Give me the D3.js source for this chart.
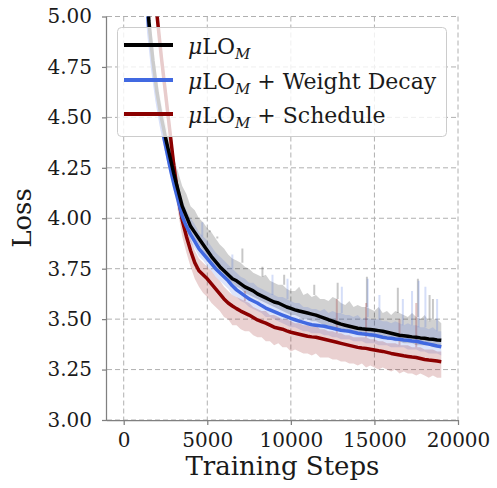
<!DOCTYPE html>
<html>
<head>
<meta charset="utf-8">
<script src="https://cdn.jsdelivr.net/npm/d3@7"></script>
<style>
  body { margin: 0; background: #fff; }
  svg text { font-family: "DejaVu Serif", serif; fill: #1a1a1a; }
</style>
</head>
<body>
<div id="chart"></div>
<script>
// x values (training steps), one every 250 steps
const steps = [
  1000, 1250, 1500, 1750, 2000, 2250, 2500, 2750, 3000, 3250,
  3500, 3750, 4000, 4250, 4500, 4750, 5000, 5250, 5500, 5750,
  6000, 6250, 6500, 6750, 7000, 7250, 7500, 7750, 8000, 8250,
  8500, 8750, 9000, 9250, 9500, 9750, 10000, 10250, 10500, 10750,
  11000, 11250, 11500, 11750, 12000, 12250, 12500, 12750, 13000, 13250,
  13500, 13750, 14000, 14250, 14500, 14750, 15000, 15250, 15500, 15750,
  16000, 16250, 16500, 16750, 17000, 17250, 17500, 17750, 18000, 18250,
  18500, 18750, 19000
];

// muLO_M
const baseMean = [
  5.90, 5.40, 4.98, 4.78, 4.62, 4.50, 4.40, 4.31, 4.22, 4.14,
  4.06, 4.01, 3.96, 3.93, 3.90, 3.87, 3.84, 3.81, 3.785, 3.76,
  3.74, 3.72, 3.70, 3.69, 3.675, 3.66, 3.65, 3.64, 3.625, 3.615,
  3.605, 3.595, 3.585, 3.58, 3.57, 3.56, 3.553, 3.546, 3.54, 3.535,
  3.53, 3.525, 3.52, 3.512, 3.505, 3.497, 3.49, 3.482, 3.475, 3.47,
  3.465, 3.46, 3.455, 3.452, 3.45, 3.448, 3.446, 3.443, 3.44, 3.435,
  3.43, 3.425, 3.42, 3.418, 3.415, 3.412, 3.41, 3.407, 3.405, 3.402,
  3.40, 3.397, 3.395
];
const baseHi = [
  6.00, 5.50, 5.06, 4.86, 4.69, 4.57, 4.47, 4.38, 4.30, 4.23,
  4.16, 4.12, 4.06, 4.04, 4.00, 3.98, 3.95, 3.93, 3.90, 3.87,
  3.85, 3.82, 3.80, 3.79, 3.78, 3.76, 3.75, 3.73, 3.72, 3.71,
  3.72, 3.69, 3.68, 3.67, 3.67, 3.65, 3.64, 3.64, 3.66, 3.62,
  3.63, 3.61, 3.62, 3.60, 3.60, 3.59, 3.61, 3.60, 3.58, 3.57,
  3.59, 3.56, 3.57, 3.56, 3.56, 3.55, 3.54, 3.56, 3.53, 3.54,
  3.52, 3.54, 3.53, 3.52, 3.51, 3.53, 3.51, 3.50, 3.52, 3.49,
  3.50, 3.50, 3.48
];
const baseLo = [
  5.85, 5.35, 4.94, 4.75, 4.59, 4.47, 4.37, 4.28, 4.19, 4.11,
  4.03, 3.98, 3.93, 3.90, 3.87, 3.84, 3.81, 3.78, 3.76, 3.73,
  3.71, 3.69, 3.68, 3.66, 3.65, 3.63, 3.62, 3.61, 3.60, 3.59,
  3.58, 3.57, 3.56, 3.55, 3.54, 3.53, 3.52, 3.52, 3.51, 3.50,
  3.50, 3.49, 3.49, 3.48, 3.47, 3.47, 3.46, 3.45, 3.44, 3.44,
  3.43, 3.43, 3.42, 3.42, 3.42, 3.41, 3.41, 3.41, 3.40, 3.40,
  3.40, 3.39, 3.39, 3.38, 3.38, 3.38, 3.37, 3.37, 3.37, 3.37,
  3.36, 3.36, 3.36
];
// single-step loss spikes: [step, peak]
const baseSpikes = [
  [5150, 3.94], [5600, 3.91], [7100, 3.85], [8300, 3.76], [9600, 3.72],
  [11400, 3.67], [12800, 3.68], [14550, 3.71], [16400, 3.655],
  [17600, 3.70], [18300, 3.62], [18500, 3.60]
];

// muLO_M + Weight Decay
const wdMean = [
  5.80, 5.30, 4.92, 4.73, 4.58, 4.46, 4.36, 4.26, 4.17, 4.09,
  4.01, 3.96, 3.92, 3.885, 3.85, 3.825, 3.80, 3.775, 3.75, 3.73,
  3.71, 3.69, 3.665, 3.645, 3.63, 3.615, 3.60, 3.59, 3.58, 3.567,
  3.555, 3.546, 3.537, 3.528, 3.52, 3.512, 3.504, 3.497, 3.49, 3.484,
  3.478, 3.472, 3.47, 3.467, 3.465, 3.46, 3.455, 3.45, 3.445, 3.442,
  3.44, 3.435, 3.43, 3.427, 3.425, 3.422, 3.42, 3.415, 3.41, 3.407,
  3.405, 3.402, 3.40, 3.397, 3.395, 3.392, 3.39, 3.385, 3.38, 3.376,
  3.372, 3.367, 3.363
];
const wdHi = [
  5.88, 5.38, 4.99, 4.80, 4.65, 4.53, 4.43, 4.33, 4.24, 4.17,
  4.09, 4.04, 4.00, 3.97, 3.93, 3.91, 3.89, 3.86, 3.83, 3.81,
  3.79, 3.77, 3.75, 3.73, 3.71, 3.70, 3.68, 3.68, 3.66, 3.65,
  3.64, 3.63, 3.62, 3.61, 3.61, 3.60, 3.59, 3.58, 3.58, 3.56,
  3.56, 3.55, 3.55, 3.54, 3.55, 3.53, 3.54, 3.53, 3.53, 3.52,
  3.52, 3.51, 3.52, 3.50, 3.51, 3.50, 3.50, 3.50, 3.49, 3.49,
  3.48, 3.49, 3.48, 3.47, 3.48, 3.47, 3.47, 3.46, 3.46, 3.45,
  3.46, 3.44, 3.44
];
const wdLo = [
  5.76, 5.26, 4.88, 4.69, 4.54, 4.42, 4.32, 4.22, 4.13, 4.05,
  3.97, 3.92, 3.88, 3.85, 3.81, 3.79, 3.76, 3.74, 3.71, 3.69,
  3.67, 3.65, 3.62, 3.61, 3.59, 3.58, 3.56, 3.55, 3.54, 3.53,
  3.51, 3.51, 3.50, 3.49, 3.48, 3.47, 3.46, 3.46, 3.45, 3.44,
  3.44, 3.43, 3.43, 3.43, 3.42, 3.42, 3.41, 3.41, 3.40, 3.40,
  3.40, 3.39, 3.39, 3.39, 3.38, 3.38, 3.38, 3.37, 3.37, 3.37,
  3.36, 3.36, 3.36, 3.36, 3.35, 3.35, 3.35, 3.34, 3.34, 3.33,
  3.33, 3.33, 3.32
];
const wdSpikes = [
  [4700, 3.98], [6500, 3.82], [8900, 3.72], [9800, 3.70], [13050, 3.66],
  [14600, 3.70], [15300, 3.62], [16700, 3.60], [17250, 3.64],
  [17650, 3.69], [18050, 3.66], [18750, 3.60]
];

// muLO_M + Schedule
const schedMean = [
  7.00, 6.20, 5.60, 5.25, 5.00, 4.80, 4.62, 4.44, 4.26, 4.11,
  3.99, 3.91, 3.84, 3.78, 3.74, 3.72, 3.70, 3.675, 3.65, 3.625,
  3.60, 3.58, 3.565, 3.552, 3.54, 3.53, 3.52, 3.508, 3.496, 3.488,
  3.48, 3.47, 3.46, 3.455, 3.45, 3.442, 3.435, 3.43, 3.425, 3.42,
  3.415, 3.412, 3.41, 3.405, 3.40, 3.395, 3.39, 3.385, 3.38, 3.375,
  3.37, 3.365, 3.36, 3.357, 3.355, 3.351, 3.347, 3.343, 3.34, 3.335,
  3.33, 3.326, 3.322, 3.318, 3.315, 3.312, 3.31, 3.305, 3.30, 3.297,
  3.295, 3.292, 3.289
];
const schedHi = [
  7.08, 6.28, 5.67, 5.31, 5.06, 4.86, 4.68, 4.50, 4.32, 4.17,
  4.05, 3.97, 3.90, 3.84, 3.80, 3.78, 3.76, 3.74, 3.71, 3.69,
  3.66, 3.64, 3.62, 3.61, 3.60, 3.59, 3.58, 3.56, 3.55, 3.54,
  3.54, 3.52, 3.52, 3.51, 3.50, 3.50, 3.49, 3.48, 3.48, 3.47,
  3.47, 3.46, 3.47, 3.45, 3.45, 3.44, 3.44, 3.43, 3.43, 3.42,
  3.42, 3.41, 3.41, 3.41, 3.41, 3.40, 3.40, 3.39, 3.39, 3.38,
  3.38, 3.38, 3.37, 3.37, 3.37, 3.36, 3.36, 3.36, 3.35, 3.35,
  3.35, 3.34, 3.34
];
const schedLo = [
  6.92, 6.12, 5.53, 5.18, 4.93, 4.73, 4.55, 4.37, 4.19, 4.03,
  3.91, 3.83, 3.76, 3.70, 3.66, 3.63, 3.61, 3.58, 3.56, 3.54,
  3.51, 3.50, 3.47, 3.47, 3.45, 3.44, 3.44, 3.42, 3.41, 3.41,
  3.39, 3.39, 3.37, 3.38, 3.36, 3.36, 3.34, 3.35, 3.34, 3.33,
  3.33, 3.32, 3.33, 3.31, 3.31, 3.31, 3.30, 3.30, 3.29, 3.29,
  3.28, 3.28, 3.27, 3.28, 3.26, 3.27, 3.26, 3.25, 3.26, 3.25,
  3.24, 3.25, 3.23, 3.24, 3.23, 3.23, 3.22, 3.23, 3.22, 3.21,
  3.22, 3.21, 3.21
];
const schedSpikes = [
  [7250, 3.64], [12750, 3.60], [14500, 3.58], [16500, 3.50], [17500, 3.58]
];

const xTicks = [0, 5000, 10000, 15000, 20000];
const yTicks = [3.00, 3.25, 3.50, 3.75, 4.00, 4.25, 4.50, 4.75, 5.00];

const series = [
  {mean: baseMean, hi: baseHi, lo: baseLo, spikes: baseSpikes, color: "#000000"},
  {mean: wdMean, hi: wdHi, lo: wdLo, spikes: wdSpikes, color: "#4169e1"},
  {mean: schedMean, hi: schedHi, lo: schedLo, spikes: schedSpikes, color: "#8b0000"}
];
const legendSuffix = ["", " + Weight Decay", " + Schedule"];

// plot box
const W = 497, H = 488;
const plot = {left: 107, right: 458, top: 16.5, bottom: 420};

const svg = d3.select("#chart").append("svg")
    .attr("width", W)
    .attr("height", H);

const x = d3.scaleLinear().domain([-1000, 20000]).range([plot.left, plot.right]);
const y = d3.scaleLinear().domain([3, 5]).range([plot.bottom, plot.top]);

svg.append("clipPath").attr("id", "clip")
  .append("rect")
    .attr("x", plot.left).attr("y", plot.top)
    .attr("width", plot.right - plot.left)
    .attr("height", plot.bottom - plot.top);

// grid
const grid = svg.append("g").attr("class", "grid");
grid.selectAll(".gx").data(xTicks).enter().append("line")
    .attr("x1", d => x(d)).attr("x2", d => x(d))
    .attr("y1", plot.top).attr("y2", plot.bottom)
    .attr("stroke", "#b0b0b0").attr("stroke-width", 1)
    .attr("stroke-dasharray", "5,3");
grid.selectAll(".gy").data(yTicks).enter().append("line")
    .attr("x1", plot.left).attr("x2", plot.right)
    .attr("y1", d => y(d)).attr("y2", d => y(d))
    .attr("stroke", "#b0b0b0").attr("stroke-width", 1)
    .attr("stroke-dasharray", "5,3");

// bands + spikes + lines
const data = svg.append("g").attr("clip-path", "url(#clip)");
const bisect = d3.bisector(d => d).center;

series.forEach(s => {
  const area = d3.area()
      .x((d, i) => x(steps[i]))
      .y0((d, i) => y(s.lo[i]))
      .y1((d, i) => y(s.hi[i]));
  data.append("path")
      .datum(steps)
      .attr("d", area)
      .attr("fill", s.color)
      .attr("fill-opacity", 0.18);
  data.selectAll(null).data(s.spikes).enter().append("line")
      .attr("x1", d => x(d[0])).attr("x2", d => x(d[0]))
      .attr("y1", d => y(s.hi[bisect(steps, d[0])]))
      .attr("y2", d => y(d[1]))
      .attr("stroke", s.color)
      .attr("stroke-opacity", 0.22)
      .attr("stroke-width", 2);
});

const line = d3.line().x((d, i) => x(steps[i])).y(d => y(d));
[series[2], series[1], series[0]].forEach(s => {
  data.append("path")
      .datum(s.mean)
      .attr("d", line)
      .attr("fill", "none")
      .attr("stroke", s.color)
      .attr("stroke-width", 3.5)
      .attr("stroke-linejoin", "round");
});

// axes
const xAxis = svg.append("g")
    .attr("transform", `translate(0,${plot.bottom})`)
    .call(d3.axisBottom(x).tickValues(xTicks).tickSize(5).tickPadding(8).tickFormat(d3.format("d")));
const yAxis = svg.append("g")
    .attr("transform", `translate(${plot.left},0)`)
    .call(d3.axisLeft(y).tickValues(yTicks).tickSize(5).tickPadding(10).tickFormat(d3.format(".2f")));

[xAxis, yAxis].forEach(ax => {
  ax.select(".domain").attr("stroke", "#808080").attr("stroke-width", 1.25);
  ax.selectAll(".tick line").attr("stroke", "#808080").attr("stroke-width", 1.25);
  ax.selectAll(".tick text")
      .style("font-family", "DejaVu Serif")
      .style("font-size", "20px")
      .attr("fill", "#1a1a1a");
});
// spines only span the plot box
xAxis.select(".domain").attr("d", `M${plot.left},0.5H${plot.right}`);
yAxis.select(".domain").attr("d", `M-0.5,${plot.top}V${plot.bottom}`);

svg.append("text")
    .attr("x", (plot.left + plot.right) / 2)
    .attr("y", 475)
    .attr("text-anchor", "middle")
    .style("font-size", "26px")
    .text("Training Steps");

svg.append("text")
    .attr("transform", `translate(31,218) rotate(-90)`)
    .attr("text-anchor", "middle")
    .style("font-size", "26px")
    .text("Loss");

// legend
const legend = svg.append("g");
legend.append("rect")
    .attr("x", 117.5).attr("y", 27.5)
    .attr("width", 329).attr("height", 109)
    .attr("rx", 4)
    .attr("fill", "#fff").attr("fill-opacity", 0.8)
    .attr("stroke", "#cccccc").attr("stroke-width", 1);

const rows = [45, 80, 114];
series.forEach((s, i) => {
  const g = legend.append("g").attr("transform", `translate(0,${rows[i]})`);
  g.append("line")
      .attr("x1", 124).attr("x2", 173)
      .attr("stroke", s.color).attr("stroke-width", 4);
  const t = g.append("text")
      .attr("x", 188).attr("y", 9)
      .style("font-size", "22px");
  t.append("tspan").style("font-style", "italic").text("μ");
  t.append("tspan").text("LO");
  t.append("tspan").attr("dy", 5).style("font-style", "italic").style("font-size", "15px").text("M");
  t.append("tspan").attr("dy", -5).text(legendSuffix[i]);
});
</script>
</body>
</html>
